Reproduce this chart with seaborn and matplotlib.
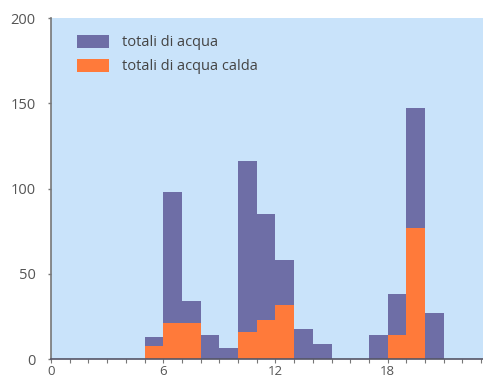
import numpy as np
import pandas as pd
import matplotlib
matplotlib.use("Agg")
import matplotlib.pyplot as plt
from matplotlib.patches import Patch
import seaborn as sns

# Data (hour of day, litres)
hours = [5, 6, 7, 8, 9, 10, 11, 12, 13, 14, 15, 16, 17, 18, 19, 20]
totale = [13, 98, 34, 14, 6.5, 116, 85, 58, 18, 9, 0, 0, 14, 38.5, 147, 27]
calda = [8, 21, 21, 0, 0, 16, 23, 32, 0, 0, 0, 0, 0, 14.5, 77, 0]
series_labels = ["totali di acqua", "totali di acqua calda"]
y_ticks = [0, 50, 100, 150, 200]
x_ticks = [0, 6, 12, 18]

col_tot = "#6E6EA6"
col_hot = "#FF7A3A"
bg = "#C9E3FA"

sns.set_style("white")
plt.rcParams['font.family'] = ['Open Sans', 'DejaVu Sans']

df = pd.DataFrame({"ora": [h + 0.5 for h in hours], "totale": totale, "calda": calda})

fig = plt.figure(figsize=(4.83, 3.83), dpi=100)
ax = fig.add_axes([0.1056, 0.062, 0.8944, 0.891])
ax.set_facecolor(bg)

sns.histplot(data=df, x="ora", weights="totale", binwidth=1,
             binrange=(min(hours), max(hours) + 1), color=col_tot,
             alpha=1, linewidth=0, ax=ax)
sns.histplot(data=df, x="ora", weights="calda", binwidth=1,
             binrange=(min(hours), max(hours) + 1), color=col_hot,
             alpha=1, linewidth=0, ax=ax)

ax.set_xlim(0, 23.1)
ax.set_ylim(0, 200)
ax.set_xlabel("")
ax.set_ylabel("")
ax.set_xticks(x_ticks)
ax.set_xticklabels([str(t) for t in x_ticks])
ax.set_xticks(np.arange(0, 24, 1), minor=True)
ax.set_yticks(y_ticks)
ax.set_yticklabels([str(t) for t in y_ticks])

for s in ["top", "right"]:
    ax.spines[s].set_visible(False)
ax.spines["left"].set_color("#777777")
ax.spines["left"].set_linewidth(1.2)
ax.spines["bottom"].set_color("#555566")
ax.spines["bottom"].set_linewidth(1.2)

ax.tick_params(axis="y", length=2, width=1, color="#777777", labelsize=10.5,
               labelcolor="#555555", pad=9, left=True)
ax.tick_params(axis="x", which="both", length=3, width=0.8, color="#777777",
               labelsize=9.5, labelcolor="#555555", pad=1, bottom=True)

handles = [Patch(facecolor=col_tot, edgecolor="none"),
           Patch(facecolor=col_hot, edgecolor="none")]
leg = ax.legend(handles, series_labels, loc="upper left", frameon=False,
                bbox_to_anchor=(0.03, 0.99), handlelength=2.2, handleheight=1.0,
                handletextpad=0.9, labelspacing=0.6, fontsize=10.5)
for t in leg.get_texts():
    t.set_color("#444444")

fig.savefig("out.png", dpi=100, facecolor="white")
